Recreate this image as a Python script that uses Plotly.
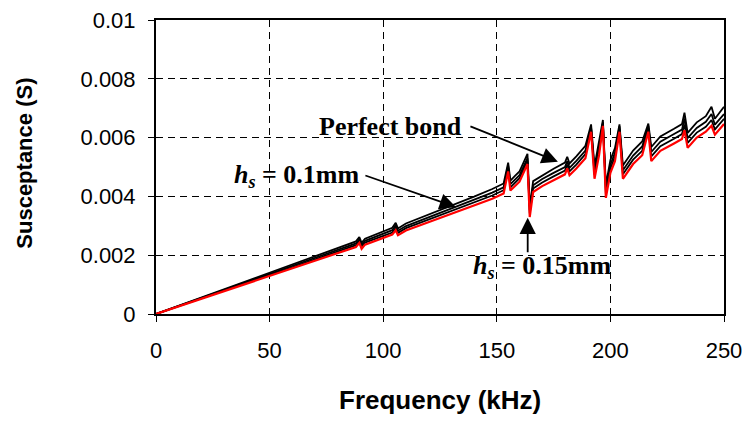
import plotly.graph_objects as go

freq_khz = [0, 10, 20, 30, 40, 50, 60, 70, 80, 88, 89.5, 90.5, 92, 100, 104, 105.5, 106.5, 110,
            120, 130, 140, 148, 153, 155, 156, 158, 160, 163.5, 164.5, 166, 170, 175, 180, 181,
            182, 185, 189, 191.5, 193, 195, 196.7, 198, 200, 202, 204, 205.5, 210, 214, 216.7,
            218, 222, 228, 231.5, 232.6, 234, 238, 242, 244.5, 246, 250]

# values in mS
perfect_bond = [0, 0.28, 0.56, 0.85, 1.12, 1.40, 1.68, 1.96, 2.25, 2.47, 2.62, 2.42, 2.56, 2.82, 2.93,
                3.10, 2.91, 3.08, 3.38, 3.69, 3.99, 4.25, 4.44, 5.15, 4.54, 4.70, 4.85, 5.45, 3.66,
                4.52, 4.72, 4.94, 5.15, 5.35, 5.12, 5.36, 5.72, 6.45, 5.02, 5.83, 6.60, 4.39, 5.24,
                5.64, 6.45, 5.05, 5.56, 5.87, 6.48, 5.68, 6.04, 6.30, 6.46, 6.85, 6.16, 6.52, 6.73,
                7.05, 6.64, 7.05]
hs_005 = [0, 0.27, 0.55, 0.82, 1.09, 1.36, 1.63, 1.91, 2.18, 2.40, 2.55, 2.35, 2.49, 2.74, 2.85,
          3.02, 2.83, 2.99, 3.29, 3.58, 3.88, 4.13, 4.31, 5.05, 4.42, 4.57, 4.72, 5.30, 3.53,
          4.38, 4.59, 4.80, 5.00, 5.20, 4.97, 5.21, 5.56, 6.35, 4.87, 5.67, 6.52, 4.23, 5.08,
          5.48, 6.38, 4.89, 5.39, 5.70, 6.40, 5.51, 5.86, 6.12, 6.27, 6.65, 5.98, 6.33, 6.54,
          6.80, 6.44, 6.80]
hs_01 = [0, 0.27, 0.53, 0.80, 1.06, 1.33, 1.59, 1.86, 2.13, 2.34, 2.48, 2.29, 2.43, 2.67, 2.77,
         2.93, 2.76, 2.92, 3.21, 3.49, 3.78, 4.03, 4.21, 4.95, 4.31, 4.46, 4.62, 5.22, 3.42,
         4.27, 4.47, 4.68, 4.88, 5.08, 4.85, 5.08, 5.44, 6.30, 4.74, 5.54, 6.48, 4.09, 4.94,
         5.35, 6.30, 4.75, 5.25, 5.55, 6.32, 5.36, 5.71, 5.96, 6.12, 6.45, 5.82, 6.17, 6.37,
         6.60, 6.28, 6.64]
hs_015 = [0, 0.26, 0.52, 0.78, 1.03, 1.29, 1.55, 1.81, 2.07, 2.28, 2.42, 2.22, 2.36, 2.60, 2.70,
          2.85, 2.68, 2.84, 3.12, 3.40, 3.68, 3.92, 4.10, 4.85, 4.20, 4.35, 4.50, 5.10, 3.30,
          4.15, 4.35, 4.55, 4.75, 4.95, 4.72, 4.95, 5.30, 6.20, 4.60, 5.40, 6.40, 3.95, 4.80,
          5.20, 6.20, 4.60, 5.10, 5.40, 6.20, 5.20, 5.55, 5.80, 5.95, 6.25, 5.65, 6.00, 6.20,
          6.40, 6.10, 6.46]

y_ticks = [0, 0.002, 0.004, 0.006, 0.008, 0.01]
y_tick_labels = ["0", "0.002", "0.004", "0.006", "0.008", "0.01"]
x_ticks = [0, 50, 100, 150, 200, 250]

def to_s(vals):
    return [v / 1000.0 for v in vals]

fig = go.Figure()
for vals, col, w in [(perfect_bond, "black", 1.8), (hs_005, "black", 1.8),
                     (hs_01, "black", 1.8), (hs_015, "#ff0000", 2.2)]:
    fig.add_trace(go.Scatter(x=freq_khz, y=to_s(vals), mode="lines",
                             line=dict(color=col, width=w), showlegend=False))

txt_font = dict(family="Liberation Serif, Times New Roman, serif", size=26, color="black")

annos = [
    dict(x=176.9, y=0.00518, ax=-89, ay=-36),
    dict(x=132, y=0.00364, ax=-92, ay=-32),
    dict(x=163.6, y=0.00327, ax=0, ay=36),
]
for a in annos:
    fig.add_annotation(x=a["x"], y=a["y"], ax=a["ax"], ay=a["ay"], text="",
                       showarrow=True, arrowhead=2, arrowsize=1.8, arrowwidth=1.8,
                       arrowcolor="black", xref="x", yref="y")

fig.add_annotation(x=103.2, y=0.00639, text="<b>Perfect bond</b>", showarrow=False, font=txt_font)
fig.add_annotation(x=62.2, y=0.00469, text="<b><i>h<sub>s</sub></i> = 0.1mm</b>", showarrow=False, font=txt_font)
fig.add_annotation(x=170.2, y=0.00160, text="<b><i>h<sub>s</sub></i> = 0.15mm</b>", showarrow=False, font=txt_font)

fig.add_annotation(xref="paper", yref="paper", x=0.5, y=-0.294, yanchor="middle",
                   text="<b>Frequency (kHz)</b>", showarrow=False,
                   font=dict(family="Liberation Sans, Arial, sans-serif", size=26, color="black"))
fig.add_annotation(xref="paper", yref="paper", x=-0.232, y=0.512, xanchor="center", yanchor="middle",
                   text="<b>Susceptance (S)</b>", textangle=-90, showarrow=False,
                   font=dict(family="Liberation Sans, Arial, sans-serif", size=22, color="black"))

axis_font = dict(family="Liberation Sans, Arial, sans-serif", size=22, color="black")
fig.update_xaxes(range=[0, 250], tickvals=x_ticks, ticks="outside", ticklen=6, tickcolor="black",
                 showline=True, linecolor="black", linewidth=2, mirror=True,
                 showgrid=True, gridcolor="black", gridwidth=1, griddash="7px,5px",
                 zeroline=False, tickfont=axis_font, automargin=False, ticklabelstandoff=10,
                 ticklabeloverflow="allow")
fig.update_yaxes(range=[0, 0.01], tickvals=y_ticks, ticktext=y_tick_labels, ticks="outside", ticklen=6,
                 tickcolor="black", showline=True, linecolor="black", linewidth=2, mirror=True,
                 showgrid=True, gridcolor="black", gridwidth=1, griddash="7px,5px",
                 zeroline=False, tickfont=axis_font, automargin=False, ticklabelstandoff=8,
                 ticklabeloverflow="allow")

fig.update_layout(width=744, height=423, margin=dict(l=156, r=20, t=20, b=109),
                  plot_bgcolor="white", paper_bgcolor="white", hovermode=False)

# remove the default page margin so the figure fills the 744x423 window exactly
fig.write_html("out.html",
               config={"displayModeBar": False, "staticPlot": True},
               post_script="document.body.style.margin='0px';"
                           "document.documentElement.style.overflow='hidden';"
                           "document.body.style.overflow='hidden';")
